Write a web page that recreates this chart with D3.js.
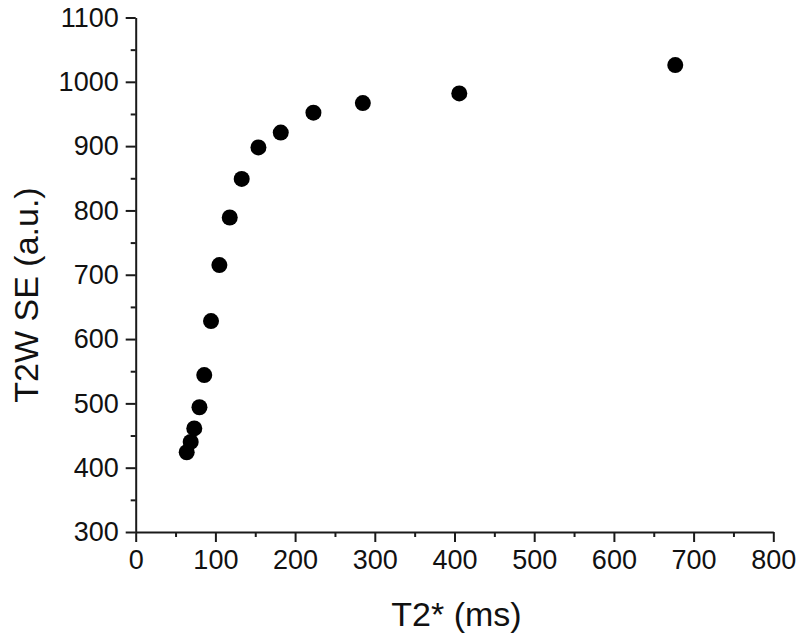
<!DOCTYPE html>
<html>
<head>
<meta charset="utf-8">
<script src="https://cdn.jsdelivr.net/npm/d3@7"></script>
<style>
  body { margin: 0; background: #fff; }
  svg { display: block; font-family: "Liberation Sans", Arial, sans-serif; }
</style>
</head>
<body>
<svg width="800" height="637"></svg>
<script>
// values
var t2star = [64, 69, 73.5, 80, 86, 94.5, 105, 118, 133, 154, 182, 223, 285, 406, 677];
var t2wSE = [424, 440, 461, 494, 544, 628, 715, 789, 849, 898, 921, 952, 967, 982, 1026];
var xTicks = [0, 100, 200, 300, 400, 500, 600, 700, 800];
var yTicks = [300, 400, 500, 600, 700, 800, 900, 1000, 1100];

function drawChart() {
    var svg = d3.select("svg");
    var margin = { top: 17.5, right: 26.7, bottom: 105, left: 135.7 };
    var width = 800 - margin.left - margin.right;
    var height = 637 - margin.top - margin.bottom;

    var g = svg.append("g")
        .attr("transform", "translate(" + margin.left + "," + margin.top + ")");

    var x = d3.scaleLinear().domain([0, 800]).range([0, width]);
    var y = d3.scaleLinear().domain([300, 1100]).range([height, 0]);

    var minorX = d3.range(50, 800, 100);
    var minorY = d3.range(350, 1100, 100);

    // minor ticks
    g.append("g")
        .attr("transform", "translate(0," + height + ")")
        .call(d3.axisBottom(x).tickValues(minorX).tickSize(5).tickFormat(""))
        .call(function(a) { a.select(".domain").remove(); });
    g.append("g")
        .call(d3.axisLeft(y).tickValues(minorY).tickSize(5).tickFormat(""))
        .call(function(a) { a.select(".domain").remove(); });

    // major axes
    g.append("g")
        .attr("transform", "translate(0," + height + ")")
        .call(d3.axisBottom(x).tickValues(xTicks).tickFormat(d3.format("d"))
            .tickSize(10).tickSizeOuter(0).tickPadding(8));
    g.append("g")
        .call(d3.axisLeft(y).tickValues(yTicks).tickFormat(d3.format("d"))
            .tickSize(10).tickSizeOuter(0).tickPadding(7));

    g.selectAll(".tick line, .domain")
        .attr("stroke", "#1a1a1a")
        .attr("stroke-width", 2);
    g.selectAll(".tick text")
        .attr("fill", "#111")
        .style("font-size", "27px")
        .style("font-family", "'Liberation Sans', Arial, sans-serif");

    g.selectAll(".dot")
        .data(t2star)
        .enter().append("circle")
        .attr("class", "dot")
        .attr("cx", function(d) { return x(d); })
        .attr("cy", function(d, i) { return y(t2wSE[i]); })
        .attr("r", 8)
        .attr("fill", "#000");

    svg.append("text")
        .attr("x", margin.left + width / 2 + 2)
        .attr("y", 626)
        .attr("text-anchor", "middle")
        .attr("fill", "#111")
        .style("font-size", "34px")
        .text("T2* (ms)");

    svg.append("text")
        .attr("transform", "translate(38,295) rotate(-90)")
        .attr("text-anchor", "middle")
        .attr("fill", "#111")
        .style("font-size", "34px")
        .text("T2W SE (a.u.)");
}

drawChart();
</script>
</body>
</html>
